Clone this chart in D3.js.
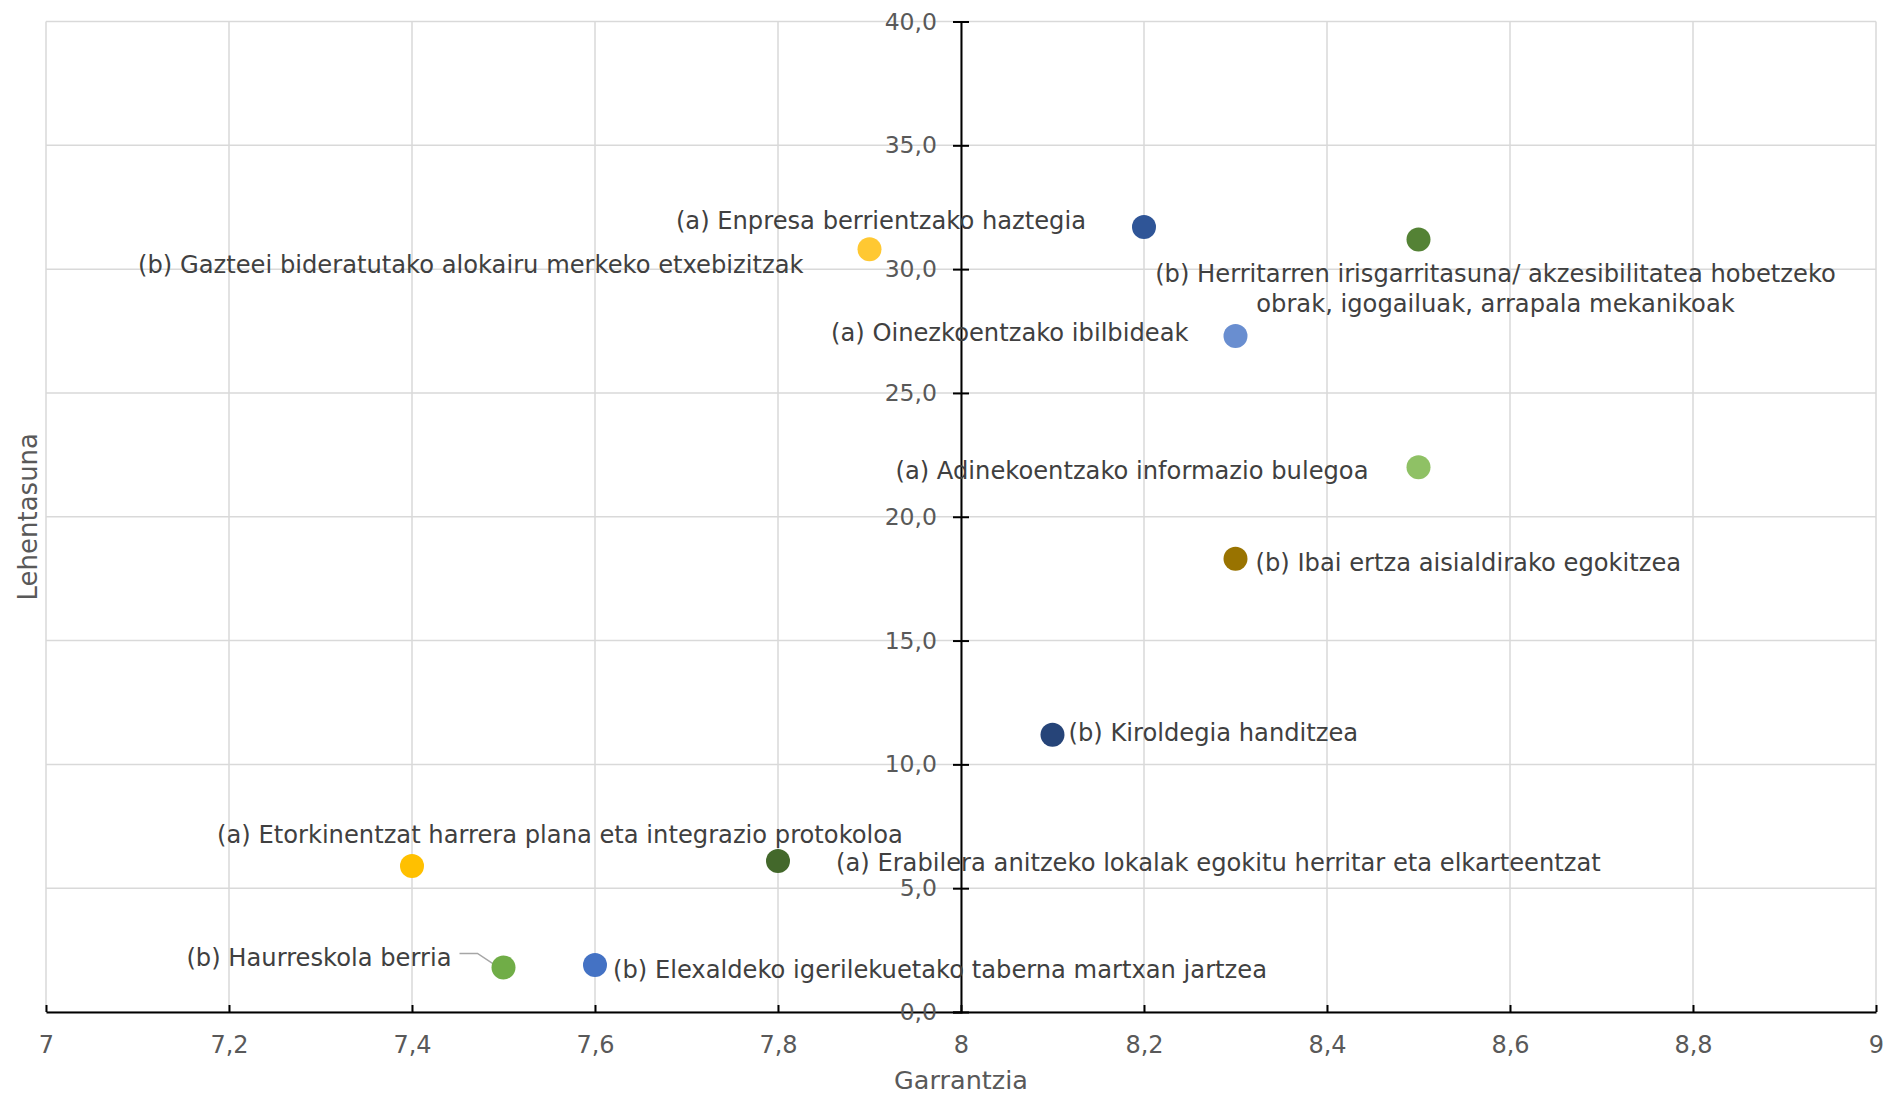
<!DOCTYPE html>
<html>
<head>
<meta charset="utf-8">
<script src="https://cdn.jsdelivr.net/npm/d3@7"></script>
<style>
  body { margin: 0; background: #fff; }
  svg { font-family: "DejaVu Sans", Verdana, sans-serif; }
</style>
</head>
<body>
<div id="chart"></div>
<script>
// Chart Data
const labels = [
  "(a) Enpresa berrientzako haztegia",
  "(b) Gazteei bideratutako alokairu merkeko etxebizitzak",
  "(b) Herritarren irisgarritasuna/ akzesibilitatea hobetzeko|obrak, igogailuak, arrapala mekanikoak",
  "(a) Oinezkoentzako ibilbideak",
  "(a) Adinekoentzako informazio bulegoa",
  "(b) Ibai ertza aisialdirako egokitzea",
  "(b) Kiroldegia handitzea",
  "(a) Etorkinentzat harrera plana eta integrazio protokoloa",
  "(a) Erabilera anitzeko lokalak egokitu herritar eta elkarteentzat",
  "(b) Haurreskola berria",
  "(b) Elexaldeko igerilekuetako taberna martxan jartzea"
];
const garrantzia = [8.2, 7.9, 8.5, 8.3, 8.5, 8.3, 8.1, 7.4, 7.8, 7.5, 7.6];
const lehentasuna = [31.7, 30.8, 31.2, 27.3, 22.0, 18.3, 11.2, 5.9, 6.1, 1.8, 1.9];
const xTicks = [7, 7.2, 7.4, 7.6, 7.8, 8, 8.2, 8.4, 8.6, 8.8, 9];
const yTicks = [0, 5, 10, 15, 20, 25, 30, 35, 40];

// Point Colours And Label Placement (pixels relative to the dot)
const colors = ["#2F5597", "#FFC832", "#548235", "#698ED0", "#8FC165", "#997300", "#264478", "#FFC000", "#43682B", "#70AD47", "#4472C4"];
const labelPos = [
  { dx: -58, dy: -6, anchor: "end" },
  { dx: -66, dy: 15, anchor: "end" },
  { dx: 77, dy: 34, anchor: "middle" },
  { dx: -47, dy: -3, anchor: "end" },
  { dx: -50, dy: 3, anchor: "end" },
  { dx: 20, dy: 4, anchor: "start" },
  { dx: 16, dy: -2, anchor: "start" },
  { dx: -195, dy: -31, anchor: "start" },
  { dx: 58, dy: 2, anchor: "start" },
  { dx: -52, dy: -10, anchor: "end", leader: true },
  { dx: 18, dy: 5, anchor: "start" }
];

// Dimensions For SVG Element
let w = 1885, h = 1096;
let mLeft = 46, mRight = 1876, mTop = 21.5, mBottom = 1012;

let svg = d3.select("#chart").append("svg").attr("width", w).attr("height", h);

// Scales
let x = d3.scaleLinear().domain([7, 9]).range([mLeft, mRight]);
let y = d3.scaleLinear().domain([0, 40]).range([mBottom, mTop]);
let fmt = d3.formatLocale({ decimal: ",", thousands: ".", grouping: [3], currency: ["", "€"] });
let fmtY = fmt.format(".1f");
let fmtX = (d) => fmt.format("~g")(d);

// Gridlines
svg.append("g").selectAll("line").data(yTicks).enter().append("line")
  .attr("x1", mLeft).attr("x2", mRight).attr("y1", (d) => y(d)).attr("y2", (d) => y(d))
  .attr("stroke", "#D9D9D9").attr("stroke-width", 1.5);
svg.append("g").selectAll("line").data(xTicks).enter().append("line")
  .attr("x1", (d) => x(d)).attr("x2", (d) => x(d)).attr("y1", mTop).attr("y2", mBottom)
  .attr("stroke", "#D9D9D9").attr("stroke-width", 1.5);

// X Axis (ticks pointing up)
let xAxis = svg.append("g").attr("transform", `translate(0,${y(0)})`)
  .call(d3.axisBottom(x).tickValues(xTicks).tickFormat(fmtX).tickSizeInner(-7).tickSizeOuter(0).tickPadding(24));
xAxis.select(".domain").attr("stroke", "#000").attr("stroke-width", 2);
xAxis.selectAll(".tick line").attr("stroke", "#000").attr("stroke-width", 2);
xAxis.selectAll("text").attr("font-size", 24).attr("fill", "#595959").attr("font-family", "DejaVu Sans");

// Y Axis (crossing ticks at x = 8)
let yAxis = svg.append("g").attr("transform", `translate(${x(8)},0)`)
  .call(d3.axisLeft(y).tickValues(yTicks).tickFormat(fmtY).tickSizeOuter(0).tickSize(8).tickPadding(16));
yAxis.select(".domain").attr("stroke", "#000").attr("stroke-width", 2);
yAxis.selectAll(".tick line").attr("x2", -8).attr("x1", 8).attr("stroke", "#000").attr("stroke-width", 2);
yAxis.selectAll("text").attr("font-size", 23.5).attr("fill", "#595959").attr("font-family", "DejaVu Sans");

// Axis Titles
svg.append("text").attr("x", x(8)).attr("y", 1089).attr("text-anchor", "middle")
  .attr("font-size", 25.5).attr("fill", "#595959").text("Garrantzia");
svg.append("text").attr("transform", `translate(37,${(mTop + mBottom) / 2}) rotate(-90)`)
  .attr("text-anchor", "middle").attr("font-size", 26).attr("fill", "#595959").text("Lehentasuna");

// Leader Lines
svg.append("g").selectAll("polyline").data(labels.map((d, i) => i).filter((i) => labelPos[i].leader)).enter()
  .append("polyline")
  .attr("points", (i) => {
    let cx = x(garrantzia[i]), cy = y(lehentasuna[i]);
    return `${cx + labelPos[i].dx + 8},${cy - 14} ${cx - 26},${cy - 14} ${cx - 8},${cy - 2}`;
  })
  .attr("fill", "none").attr("stroke", "#A6A6A6").attr("stroke-width", 1.5);

// Points
svg.append("g").selectAll("circle").data(labels).enter().append("circle")
  .attr("cx", (d, i) => x(garrantzia[i])).attr("cy", (d, i) => y(lehentasuna[i]))
  .attr("r", 12).attr("fill", (d, i) => colors[i]);

// Point Labels
let lbl = svg.append("g").selectAll("text").data(labels).enter().append("text")
  .attr("x", (d, i) => x(garrantzia[i]) + labelPos[i].dx)
  .attr("y", (d, i) => y(lehentasuna[i]) + labelPos[i].dy)
  .attr("text-anchor", (d, i) => labelPos[i].anchor)
  .attr("font-size", 24.2).attr("fill", "#404040");
lbl.each(function (d, i) {
  let lines = d.split("|");
  lines.forEach((line, k) => {
    d3.select(this).append("tspan")
      .attr("x", x(garrantzia[i]) + labelPos[i].dx)
      .attr("dy", k === 0 ? "0.35em" : 30)
      .text(line);
  });
});
</script>
</body>
</html>
